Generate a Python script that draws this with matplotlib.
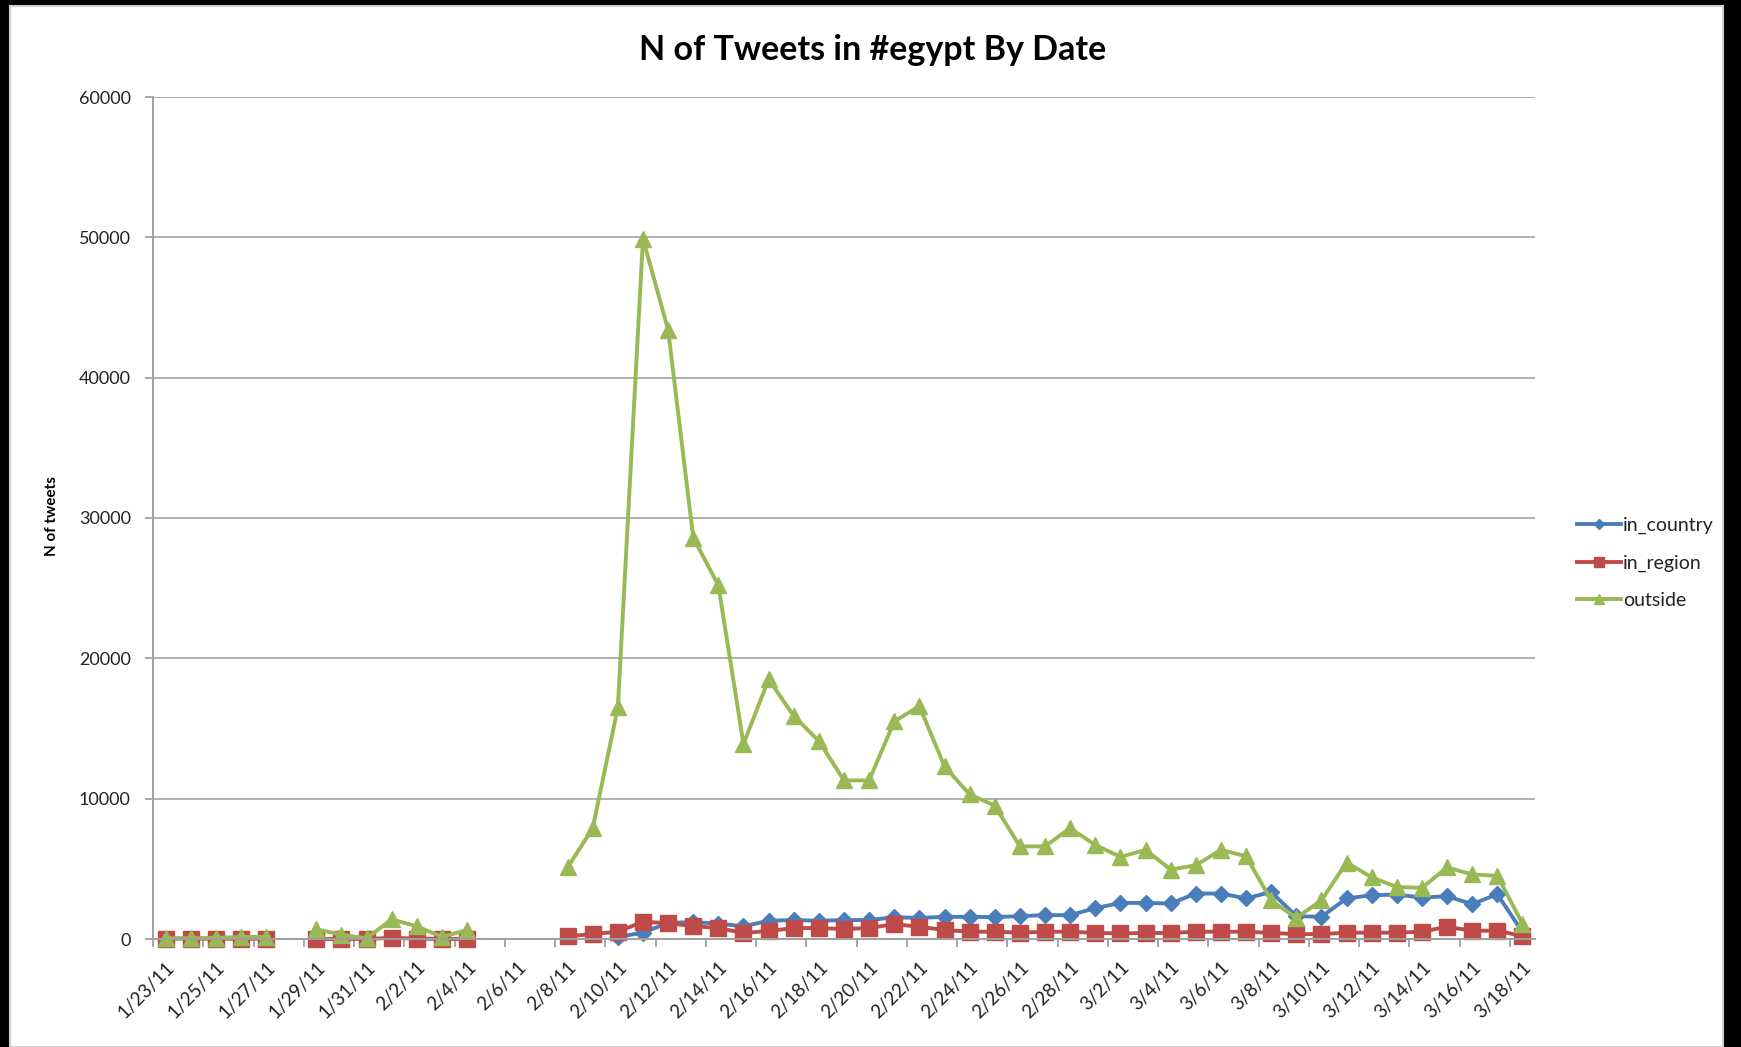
import numpy as np
import matplotlib.pyplot as plt
from matplotlib.patches import Rectangle
from matplotlib.ticker import FixedLocator

plt.rcParams['font.family'] = ['Lato', 'DejaVu Sans']

# une categorie par jour, du 1/23/11 au 3/18/11
dates = (['1/%d/11' % d for d in range(23, 32)]
         + ['2/%d/11' % d for d in range(1, 29)]
         + ['3/%d/11' % d for d in range(1, 19)])

nan = np.nan
in_country = [nan, nan, nan, nan, nan, nan, nan, nan, nan, nan, nan, nan, nan,
              nan, nan, nan, nan, nan,
              150, 450, 1150, 1200, 1100, 900, 1300, 1350, 1300, 1350, 1350,
              1550, 1500, 1580, 1580, 1560, 1630, 1700, 1700, 2200, 2570, 2570,
              2530, 3240, 3240, 2890, 3350, 1630, 1580, 2890, 3120, 3170, 2950,
              3050, 2480, 3190, 500]
in_region = [30, 30, 20, 20, 20, nan, 0, 0, 0, 80, 30, 0, 0, nan, nan, nan,
             200, 350, 520, 1230, 1130, 920, 780, 430, 570, 780, 780, 710, 780,
             1060, 870, 640, 520, 520, 450, 520, 520, 430, 400, 430, 430, 520,
             520, 520, 430, 350, 350, 450, 450, 450, 520, 870, 590, 590, 210]
outside = [50, 50, 80, 150, 150, nan, 700, 300, 50, 1400, 900, 150, 650,
           nan, nan, nan,
           5100, 7900, 16500, 49900, 43400, 28600, 25200, 13900, 18500, 15900,
           14100, 11300, 11300, 15500, 16600, 12300, 10300, 9500, 6600, 6600,
           7900, 6700, 5850, 6350, 4950, 5250, 6350, 5900, 2750, 1500, 2750,
           5450, 4400, 3700, 3650, 5100, 4600, 4500, 1100]

x = np.arange(len(dates))

fig = plt.figure(figsize=(17.41, 10.47), dpi=100, facecolor='black')
# cadre blanc de la capture
fig.patches.append(Rectangle((10 / 1741, 0), 1713 / 1741, 1 - 6 / 1047,
                             transform=fig.transFigure, facecolor='white',
                             edgecolor='#d0d0d0', linewidth=1.5, zorder=-5))

ax = fig.add_axes([153 / 1741, 1 - 939 / 1047, 1382 / 1741, 842 / 1047])
ax.set_facecolor('white')

ax.plot(x, in_country, color='#4a7ebb', lw=2.8, marker='D', ms=8,
        label='in_country', clip_on=False)
ax.plot(x, in_region, color='#be4b48', lw=2.8, marker='s', ms=11,
        label='in_region', clip_on=False)
ax.plot(x, outside, color='#98b954', lw=2.8, marker='^', ms=12,
        label='outside', clip_on=False)

ax.set_xlim(-0.5, len(dates) - 0.5)
ax.set_ylim(0, 60000)
ax.set_yticks(np.arange(0, 60001, 10000))
ax.yaxis.grid(True, color='#b0b0b0', lw=1.4)
ax.set_axisbelow(True)

ax.xaxis.set_major_locator(FixedLocator(x[::2]))
ax.set_xticklabels(dates[::2], rotation=45, ha='right', va='top',
                   rotation_mode='anchor', fontsize=13.5, color='#222222')
ax.xaxis.set_minor_locator(FixedLocator(np.arange(-0.5, len(dates), 2)))
ax.tick_params(axis='x', which='major', length=0, pad=14)
ax.tick_params(axis='x', which='minor', length=6, color='#a0a0a0', width=1.3)
ax.tick_params(axis='y', length=6, color='#a0a0a0', width=1.3, pad=10,
               labelsize=13, labelcolor='#222222')

for s in ['top', 'right']:
    ax.spines[s].set_visible(False)
for s in ['left', 'bottom']:
    ax.spines[s].set_color('#a0a0a0')
    ax.spines[s].set_linewidth(1.4)

fig.text(0.501, 0.952, 'N of Tweets in #egypt By Date', ha='center',
         va='center', fontsize=24.5, fontweight='bold', color='black')
fig.text(0.030, 0.507, 'N of tweets', rotation=90, ha='center', va='center',
         fontsize=11, fontweight='bold', color='black')

leg = ax.legend(loc='center left', bbox_to_anchor=(1567 / 1741, 1 - 563 / 1047),
                bbox_transform=fig.transFigure, frameon=False, fontsize=14,
                handlelength=2.3, handletextpad=0.1, labelspacing=1.05,
                markerscale=0.6, borderpad=0)
for t in leg.get_texts():
    t.set_color('#222222')

fig.savefig('out.png', dpi=100, facecolor=fig.get_facecolor())
